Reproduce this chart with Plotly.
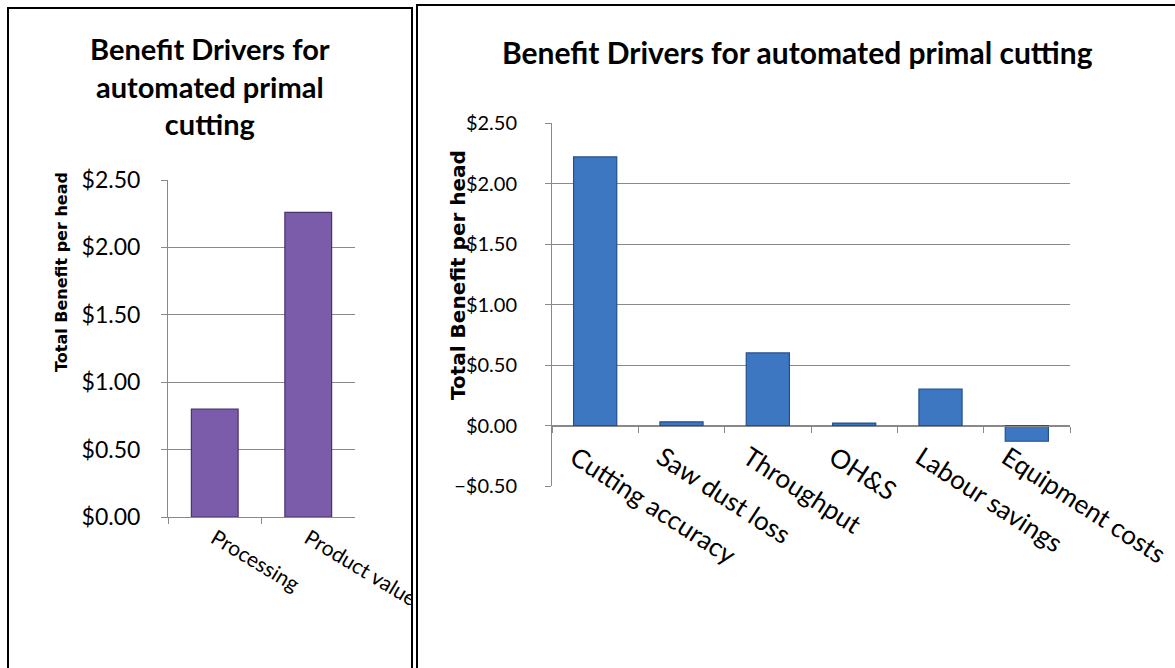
import plotly.graph_objects as go

# ---- data ----
left_categories = ["Processing", "Product value"]
left_values = [0.80, 2.26]

right_categories = ["Cutting accuracy", "Saw dust loss", "Throughput", "OH&S",
                    "Labour savings", "Equipment costs"]
right_values = [2.22, 0.03, 0.60, 0.02, 0.30, -0.13]

left_title = "Benefit Drivers for<br>automated primal<br>cutting"
right_title = "Benefit Drivers for automated primal cutting"
y_title = "Total Benefit per head"

left_yticks = [0, 0.5, 1.0, 1.5, 2.0, 2.5]
right_yticks = [-0.5, 0, 0.5, 1.0, 1.5, 2.0, 2.5]

W, H = 1175, 668
def px(x):
    return x / W
def py(y):
    return 1 - y / H

FONT = "Lato"
GRID = "#898989"

fig = go.Figure()

fig.add_trace(go.Bar(
    x=left_categories, y=left_values, xaxis="x", yaxis="y",
    marker=dict(color="#7a5caa", line=dict(color="#47336b", width=1.2)),
    showlegend=False,
))
fig.add_trace(go.Bar(
    x=right_categories, y=right_values, xaxis="x2", yaxis="y2",
    marker=dict(color="#3d77c2", line=dict(color="#22508c", width=1.2)),
    showlegend=False,
))

# right chart: zero-line position for the category axis
r_dom = [py(486), py(123)]
r_rng = [-0.5, 2.5]
zero_pos = r_dom[0] + (0 - r_rng[0]) / (r_rng[1] - r_rng[0]) * (r_dom[1] - r_dom[0])

fig.update_layout(
    width=W, height=H,
    margin=dict(l=0, r=0, t=0, b=0, autoexpand=False),
    paper_bgcolor="white", plot_bgcolor="white",
    bargap=0.5,
    font=dict(family=FONT, color="black"),
    xaxis=dict(domain=[px(168), px(355)], anchor="y", type="category",
               showline=True, linecolor=GRID, linewidth=1,
               ticks="outside", tickson="boundaries", ticklen=6, tickcolor=GRID,
               tickangle=31, tickfont=dict(size=21, family=FONT),
               showgrid=False),
    yaxis=dict(domain=[py(517), py(180)], anchor="x", range=[0, 2.5],
               tickvals=left_yticks, tickformat="$.2f",
               showline=True, linecolor=GRID, linewidth=1,
               ticks="outside", ticklen=6, tickcolor=GRID,
               ticklabelstandoff=16,
               tickfont=dict(size=23, family=FONT),
               showgrid=True, gridcolor=GRID, gridwidth=1, zeroline=False),
    xaxis2=dict(domain=[px(552), px(1070)], anchor="free", position=zero_pos,
                type="category",
                showline=True, linecolor=GRID, linewidth=1,
                ticks="outside", tickson="boundaries", ticklen=6, tickcolor=GRID,
                tickangle=33, ticklabelshift=-20, ticklabelstandoff=6,
                tickfont=dict(size=26, family=FONT),
                showgrid=False),
    yaxis2=dict(domain=r_dom, anchor="x2", range=r_rng,
                tickvals=right_yticks, tickformat="$.2f",
                showline=True, linecolor=GRID, linewidth=1,
                ticks="outside", ticklen=6, tickcolor=GRID,
                ticklabelstandoff=24,
                tickfont=dict(size=20, family=FONT),
                showgrid=True, gridcolor=GRID, gridwidth=1, zeroline=False),
)

fig.add_annotation(text="<b>" + left_title + "</b>", x=px(210), y=py(86),
                   xref="paper", yref="paper", showarrow=False,
                   xanchor="center", yanchor="middle",
                   font=dict(size=29, family=FONT), align="center")
fig.add_annotation(text="<b>" + right_title + "</b>", x=px(797), y=py(52),
                   xref="paper", yref="paper", showarrow=False,
                   xanchor="center", yanchor="middle",
                   font=dict(size=30, family=FONT), align="center")
fig.add_annotation(text="<b>" + y_title + "</b>", x=px(61), y=py(272),
                   xref="paper", yref="paper", showarrow=False, textangle=-90,
                   xanchor="center", yanchor="middle",
                   font=dict(size=16, family="DejaVu Sans"))
fig.add_annotation(text="<b>" + y_title + "</b>", x=px(458), y=py(275),
                   xref="paper", yref="paper", showarrow=False, textangle=-90,
                   xanchor="center", yanchor="middle",
                   font=dict(size=20, family="DejaVu Sans"))

# cover the overflow of the left chart's last label past its frame
fig.add_shape(type="rect", xref="paper", yref="paper",
              x0=px(412), x1=px(500), y0=0, y1=py(500),
              fillcolor="white", line=dict(width=0), layer="above")
# panel frames (open at the bottom / right like the cropped reference)
fig.add_shape(type="path", xref="paper", yref="paper",
              path=f"M {px(8)},0 L {px(8)},{py(8)} L {px(412)},{py(8)} L {px(412)},0",
              line=dict(color="black", width=2), layer="above")
fig.add_shape(type="path", xref="paper", yref="paper",
              path=f"M {px(417)},0 L {px(417)},{py(5)} L 1,{py(5)}",
              line=dict(color="black", width=2), layer="above")

fig.write_html("out.html")
